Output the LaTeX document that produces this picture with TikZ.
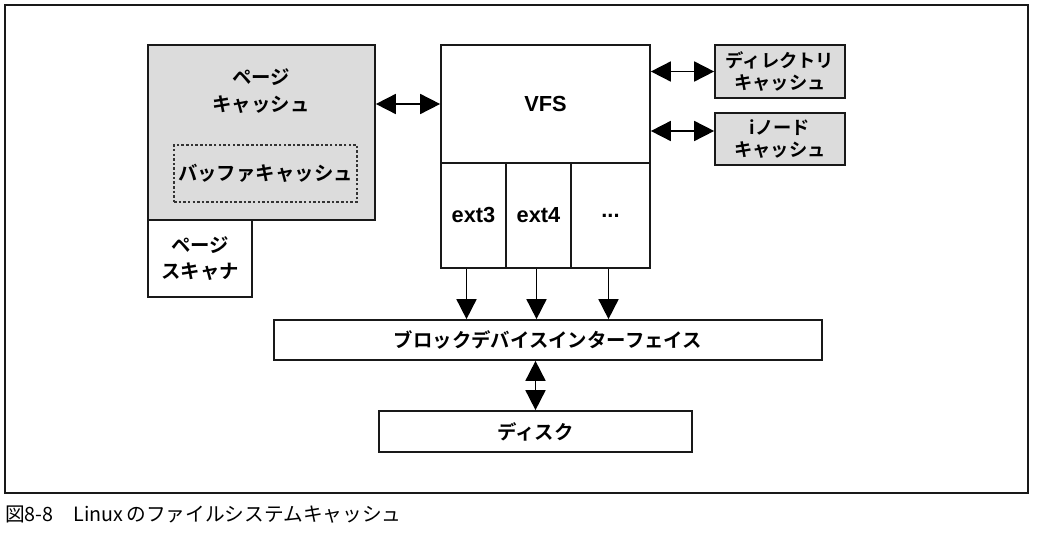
\documentclass[tikz,border=0pt]{standalone}
\usepackage{fontspec}
\setmainfont{Liberation Sans}
\newfontfamily\jpfont{Noto Sans CJK JP}[BoldFont={Noto Sans CJK JP Bold}]
\usetikzlibrary{arrows.meta,positioning,fit}
\definecolor{cgray}{HTML}{DCDCDC}
\tikzset{
  >={Triangle[length=5mm,width=5mm]},
  fbox/.style={draw=black!90, line width=1.2pt, inner sep=0pt},
  fshade/.style={fbox, fill=cgray},
  fdot/.style={draw=black!80, line width=1.1pt, dash pattern=on 1.8pt off 1.5pt, inner sep=0pt},
  flbl/.style={font=\fontsize{13.8}{19}\selectfont\jpfont\bfseries, align=center},
  fsml/.style={font=\fontsize{13}{16}\selectfont\jpfont\bfseries, align=center},
  flat/.style={font=\fontsize{15.5}{18}\selectfont\bfseries},
  flink/.style={<->, line width=1.2pt},
  fdown/.style={->, line width=1.2pt},
}
\begin{document}
\begin{tikzpicture}[x=0.025cm,y=-0.025cm]
  \useasboundingbox (0,0) rectangle (1044,532);

  % outer frame and caption
  \draw[black!90, line width=0.8pt] (5,5) rectangle (1028,493);
  \node[anchor=west, inner sep=0pt, font=\fontsize{14}{16}\selectfont\jpfont] (caption) at (5,515)
    {図8-8　Linux\,のファイルシステムキャッシュ};

  % page cache
  \node[fshade, fit={(148,45) (375,220)}] (pcache) {};
  \node[flbl] (pcachelbl) at (261,91) {ページ\\キャッシュ};
  \node[fdot, fit={(174,145) (357,202)}] (bcache) {};
  \node[flbl] (bcachelbl) at (bcache.center) {バッファキャッシュ};
  \node[fbox, fill=white, fit={(148,220) (252,297)}] (pscan) {};
  \node[flbl] (pscanlbl) at (pscan.center) {ページ\\スキャナ};

  % VFS and file systems
  \node[fbox, fit={(441,45) (650,163)}] (vfs) {};
  \node[fbox, fit={(441,163) (506,268)}] (ext3) {};
  \node[fbox, fit={(506,163) (571,268)}] (ext4) {};
  \node[fbox, fit={(571,163) (650,268)}] (fsdots) {};
  \node[flat] at (vfs.center) {VFS};
  \node[flat] at (ext3.center) {ext3};
  \node[flat] at (ext4.center) {ext4};
  \node[flat] at (fsdots.center) {...};

  % caches on the right
  \node[fshade, fit={(715,45) (845,98)}] (dcache) {};
  \node[fsml] at (dcache.center) {ディレクトリ\\キャッシュ};
  \node[fshade, fit={(715,113) (845,165)}] (icache) {};
  \node[fsml] at (icache.center) {iノード\\キャッシュ};

  % block layer
  \node[fbox, fit={(274,320) (822,360)}] (block) {};
  \node[flbl] at (block.center) {ブロックデバイスインターフェイス};
  \node[fbox, fit={(379,411) (692,452)}] (disk) {};
  \node[flbl] at (disk.center) {ディスク};

  % connectors
  \draw[flink] (pcache.east |- vfs.west) -- (vfs.west);
  \draw[flink] (vfs.east |- dcache.west) -- (dcache.west);
  \draw[flink] (vfs.east |- icache.west) ++(0,-8) -- ([yshift=2mm]icache.west);
  \draw[fdown] ([xshift=-1.75mm]ext3.south) -- ([xshift=-1.75mm]ext3.south |- block.north);
  \draw[fdown] ([xshift=-0.5mm]ext4.south) -- ([xshift=-0.5mm]ext4.south |- block.north);
  \draw[fdown] ([xshift=-0.5mm]fsdots.south) -- ([xshift=-0.5mm]fsdots.south |- block.north);
  \draw[flink] (disk.north |- block.south) -- (disk.north);

\end{tikzpicture}
\end{document}
